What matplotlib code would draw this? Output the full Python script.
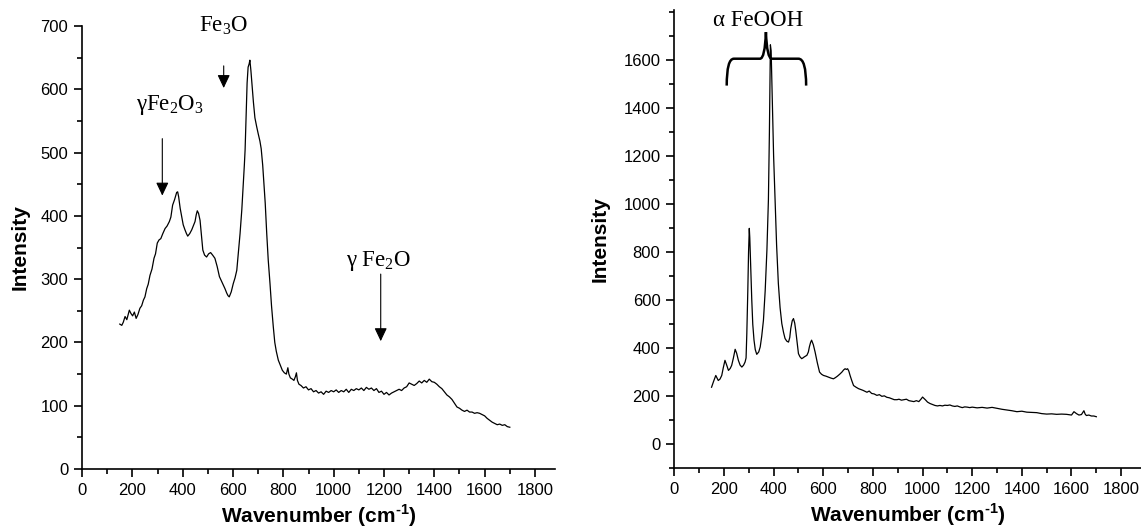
import numpy as np
from matplotlib import pyplot as plt
from matplotlib.path import Path
from matplotlib.patches import PathPatch
from matplotlib.ticker import MultipleLocator

plt.rcParams['font.family'] = ['Liberation Sans', 'DejaVu Sans']
plt.rcParams['mathtext.fontset'] = 'custom'
plt.rcParams['mathtext.rm'] = 'Liberation Serif'
plt.rcParams['mathtext.bf'] = 'Liberation Sans:bold'

# left spectrum (gamma-Fe2O3 / Fe3O4 sample)
left_wavenumber = [
  150, 158, 164, 171, 178, 188, 194, 201, 208, 215, 222, 230, 237, 244, 250, 257, 263, 270,
  278, 286, 292, 299, 306, 313, 321, 330, 338, 347, 353, 360, 368, 376, 380, 384, 390, 396,
  402, 409, 415, 420, 428, 436, 442, 449, 454, 458, 463, 469, 474, 480, 487, 495, 503, 511,
  519, 528, 537, 546, 553, 561, 568, 575, 580, 585, 593, 601, 608, 615, 621, 628, 635, 641,
  645, 648, 652, 656, 660, 664, 667, 671, 676, 681, 687, 694, 700, 707, 712, 718, 723, 728,
  734, 740, 747, 753, 760, 766, 772, 780, 788, 796, 804, 812, 818, 822, 828, 836, 842, 848,
  852, 856, 862, 870, 880, 890, 900, 910, 920, 930, 940, 950, 960, 970, 980, 990, 1000,
  1010, 1020, 1030, 1040, 1050, 1060, 1070, 1080, 1090, 1100, 1110, 1120, 1130, 1140, 1150,
  1160, 1170, 1180, 1190, 1200, 1210, 1220, 1230, 1240, 1250, 1260, 1270, 1280, 1290, 1300,
  1310, 1320, 1330, 1340, 1350, 1360, 1370, 1380, 1390, 1400, 1410, 1420, 1430, 1440, 1450,
  1460, 1470, 1480, 1490, 1500, 1510, 1520, 1530, 1540, 1550, 1560, 1570, 1580, 1590, 1600,
  1610, 1620, 1630, 1640, 1650, 1660, 1670, 1680, 1690, 1700,
]
left_intensity = [
  229, 227, 232, 241, 236, 251, 246, 242, 248, 238, 244, 254, 258, 267, 272, 285, 292, 306,
  316, 333, 340, 357, 362, 364, 372, 380, 384, 391, 398, 417, 426, 437, 438, 430, 412, 399,
  386, 378, 372, 368, 372, 378, 384, 391, 402, 408, 404, 393, 372, 346, 338, 335, 340, 342,
  338, 333, 320, 304, 298, 291, 285, 278, 274, 272, 280, 293, 302, 314, 340, 372, 410, 451,
  480, 504, 560, 610, 635, 640, 646, 630, 605, 580, 555, 541, 530, 518, 506, 480, 451, 420,
  372, 330, 293, 258, 225, 200, 186, 172, 164, 156, 152, 150, 160, 150, 144, 142, 140, 146,
  152, 140, 134, 132, 128, 130, 125, 127, 122, 124, 120, 122, 118, 123, 121, 124, 122,
  125, 121, 124, 122, 126, 121, 126, 124, 127, 125, 128, 124, 129, 126, 128,
  124, 127, 121, 123, 118, 121, 117, 120, 122, 124, 126, 124, 128, 130, 136,
  134, 132, 135, 139, 136, 140, 137, 142, 138, 137, 134, 130, 127, 122, 117,
  114, 110, 104, 98, 96, 93, 91, 93, 90, 90, 88, 89, 88, 86, 84,
  80, 77, 74, 72, 70, 71, 69, 70, 67, 66,
]

# right spectrum (alpha-FeOOH sample)
right_wavenumber = [
  150, 158, 167, 172, 177, 184, 191, 197, 204, 211, 218, 225, 231, 238, 245, 251, 258, 265,
  272, 279, 285, 289, 292, 296, 299, 302, 304, 307, 312, 316, 321, 326, 332, 340, 346, 352,
  359, 366, 373, 379, 383, 387, 390, 395, 400, 406, 412, 419, 426, 433, 440, 446, 453, 460,
  465, 469, 475, 480, 485, 489, 495, 500, 506, 513, 518, 523, 529, 534, 540, 544, 549, 553,
  560, 567, 576, 585, 593, 601, 611, 621, 631, 641, 649, 657, 666, 675, 682, 688, 693, 698,
  703, 708, 715, 722, 732, 742, 760, 776, 785, 795, 805, 816, 826, 836, 846, 856, 866,
  876, 886, 897, 905, 915, 925, 935, 945, 955, 965, 975, 985, 995, 1000, 1005, 1012, 1020,
  1030, 1040, 1050, 1060, 1070, 1080, 1090, 1100, 1110, 1120, 1130, 1140, 1150, 1160,
  1170, 1180, 1190, 1200, 1220, 1240, 1260, 1280, 1300, 1320, 1340, 1360, 1380, 1400,
  1420, 1440, 1460, 1480, 1500, 1520, 1540, 1560, 1580, 1600, 1610, 1620, 1630, 1640,
  1650, 1655, 1660, 1670, 1680, 1690, 1700,
]
right_intensity = [
  238, 262, 287, 276, 266, 272, 287, 318, 350, 330, 308, 316, 329, 360, 396, 380, 350, 330,
  322, 330, 343, 360, 461, 640, 800, 900, 860, 760, 601, 500, 434, 395, 375, 385, 406, 450,
  517, 640, 810, 1019, 1300, 1665, 1640, 1424, 1200, 1019, 830, 671, 570, 503, 466, 441, 430, 426,
  445, 482, 515, 524, 505, 475, 420, 378, 365, 357, 360, 364, 368, 371, 385, 406, 425, 434,
  415, 385, 340, 301, 292, 287, 284, 280, 276, 273, 278, 284, 292, 301, 310, 315, 312, 315,
  305, 287, 265, 245, 238, 232, 225, 217, 222, 212, 210, 204, 207, 200, 202, 196, 194,
  190, 186, 186, 188, 184, 186, 188, 182, 180, 178, 182, 178, 190, 197, 192, 185, 176,
  170, 166, 162, 160, 162, 160, 163, 162, 164, 160, 158, 160, 156, 153,
  156, 155, 153, 155, 152, 154, 151, 154, 150, 146, 143, 140, 136, 138,
  134, 133, 132, 128, 126, 127, 125, 126, 125, 122, 136, 128, 122, 124,
  140, 126, 120, 122, 118, 118, 115,
]

fig = plt.figure(figsize=(11.41, 5.32), dpi=100)
ax1 = fig.add_axes([0.0719, 0.1184, 0.4146, 0.8327])
ax2 = fig.add_axes([0.591, 0.1197, 0.409, 0.8615])

for ax in (ax1, ax2):
  ax.spines['top'].set_visible(False)
  ax.spines['right'].set_visible(False)
  ax.spines['left'].set_linewidth(1.2)
  ax.spines['bottom'].set_linewidth(1.2)
  ax.set_xlim(0, 1880)
  ax.xaxis.set_major_locator(MultipleLocator(200))
  ax.xaxis.set_minor_locator(MultipleLocator(100))
  ax.tick_params(which='major', length=6, width=1.2, labelsize=12, pad=4)
  ax.tick_params(which='minor', length=3.5, width=1.2)
  ax.set_xlabel('Wavenumber (cm$^{\\mathbf{\u20101}}$)', fontsize=15, fontweight='bold', labelpad=3)

ax1.plot(left_wavenumber, left_intensity, color='black', lw=0.9)
ax1.set_ylim(0, 700)
ax1.yaxis.set_major_locator(MultipleLocator(100))
ax1.yaxis.set_minor_locator(MultipleLocator(50))
ax1.set_ylabel('Intensity', fontsize=15, fontweight='bold', labelpad=8)

ax2.plot(right_wavenumber, right_intensity, color='black', lw=0.9)
ax2.set_ylim(-100, 1810)
ax2.set_yticks(range(0, 1601, 200))
ax2.yaxis.set_minor_locator(MultipleLocator(100))
ax2.set_ylabel('Intensity', fontsize=15, fontweight='bold', labelpad=10)

serif = dict(family='Liberation Serif', fontsize=16.5, ha='center', va='center')
arrow = dict(arrowstyle='-|>,head_length=0.4,head_width=0.19', color='black',
             lw=0.8, mutation_scale=20, shrinkA=0, shrinkB=0)

# peak labels, left panel
ax1.text(348, 575, 'γFe$_2$O$_3$', **serif)
ax1.annotate('', xy=(319, 432), xytext=(319, 522), arrowprops=arrow)
ax1.text(563, 700, 'Fe$_3$O', **serif)
ax1.annotate('', xy=(563, 602), xytext=(563, 637), arrowprops=arrow)
ax1.text(1180, 328, 'γ Fe$_2$O', **serif)
ax1.annotate('', xy=(1187, 202), xytext=(1187, 308), arrowprops=arrow)

# brace over the goethite peaks, right panel
brace_x = [211, 211, 240, 345, 365, 369, 373, 393, 500, 531, 531]
brace_y = [1495, 1607, 1607, 1607, 1607, 1718, 1607, 1607, 1607, 1607, 1495]
codes = [Path.MOVETO, Path.CURVE3, Path.CURVE3, Path.LINETO, Path.CURVE3, Path.CURVE3,
         Path.CURVE3, Path.CURVE3, Path.LINETO, Path.CURVE3, Path.CURVE3]
brace = Path(np.column_stack([brace_x, brace_y]), codes)
ax2.add_patch(PathPatch(brace, facecolor='none', edgecolor='black', lw=1.8, clip_on=False))
ax2.text(336, 1765, 'α FeOOH', **serif)

plt.savefig('out.png', dpi=100)
